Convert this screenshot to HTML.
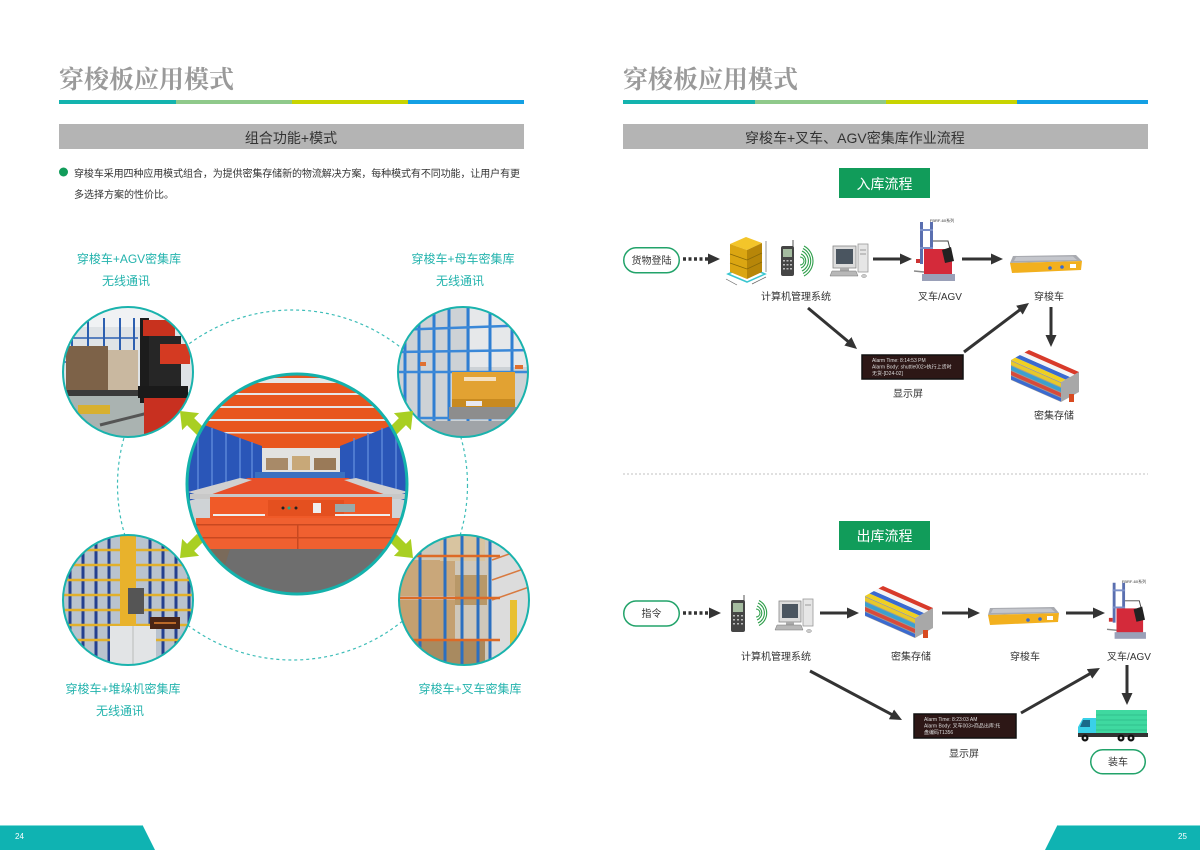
<!DOCTYPE html>
<html><head><meta charset="utf-8">
<style>
html,body{margin:0;padding:0;background:#fff;}
svg{display:block;}
text{font-family:"Liberation Sans","Noto Sans CJK SC",sans-serif;}
.t{font-family:"Liberation Serif","Noto Serif CJK SC",serif;font-weight:700;}
</style></head><body>
<svg width="1200" height="850" viewBox="0 0 1200 850" xmlns="http://www.w3.org/2000/svg">
<defs>
<marker id="ah" markerUnits="userSpaceOnUse" viewBox="0 -6 12 12" markerWidth="12" markerHeight="12" refX="1" refY="0" orient="auto"><path d="M0,-5.5 L12,0 L0,5.5 z" fill="#333"/></marker>
<clipPath id="cTL"><circle cx="128" cy="372" r="65"/></clipPath>
<clipPath id="cTR"><circle cx="463" cy="372" r="65"/></clipPath>
<clipPath id="cBL"><circle cx="128" cy="600" r="65"/></clipPath>
<clipPath id="cBR"><circle cx="464" cy="600" r="65"/></clipPath>
<clipPath id="cC"><circle cx="297" cy="484" r="110"/></clipPath>
</defs>
<rect width="1200" height="850" fill="#fff"/>

<!-- ===== LEFT PAGE ===== -->
<text class="t" x="59" y="88" font-size="25" fill="#9a9a9a">穿梭板应用模式</text>
<rect x="59" y="100" width="117" height="4" fill="#13b3ae"/>
<rect x="176" y="100" width="116" height="4" fill="#8fc98a"/>
<rect x="292" y="100" width="116" height="4" fill="#c8d400"/>
<rect x="408" y="100" width="116" height="4" fill="#14a0e4"/>
<rect x="59" y="124" width="465" height="25" fill="#b4b4b4"/>
<text x="291" y="143" font-size="14" fill="#333" text-anchor="middle">组合功能+模式</text>
<circle cx="63.5" cy="172" r="4.5" fill="#119c5a"/>
<text x="74" y="177" font-size="10" fill="#333" textLength="446" lengthAdjust="spacing">穿梭车采用四种应用模式组合，为提供密集存储新的物流解决方案，每种模式有不同功能，让用户有更</text>
<text x="74" y="198" font-size="10" fill="#333">多选择方案的性价比。</text>

<text x="129" y="263" font-size="12" fill="#23b3ad" text-anchor="middle">穿梭车+AGV密集库</text>
<text x="126" y="285" font-size="12" fill="#23b3ad" text-anchor="middle">无线通讯</text>
<text x="463" y="263" font-size="12" fill="#23b3ad" text-anchor="middle">穿梭车+母车密集库</text>
<text x="460" y="285" font-size="12" fill="#23b3ad" text-anchor="middle">无线通讯</text>
<text x="123" y="693" font-size="12" fill="#23b3ad" text-anchor="middle">穿梭车+堆垛机密集库</text>
<text x="120" y="715" font-size="12" fill="#23b3ad" text-anchor="middle">无线通讯</text>
<text x="470" y="693" font-size="12" fill="#23b3ad" text-anchor="middle">穿梭车+叉车密集库</text>

<!-- dashed big circle -->
<circle cx="292.5" cy="485" r="175" fill="none" stroke="#3dbdb8" stroke-width="1.2" stroke-dasharray="3 3"/>

<!-- TL photo -->
<g clip-path="url(#cTL)">
<rect x="60" y="305" width="140" height="135" fill="#dfe3e6"/>
<rect x="60" y="305" width="140" height="22" fill="#f0f2f4"/>
<rect x="60" y="392" width="140" height="50" fill="#aab3b1"/>
<g stroke="#2c5fb0" stroke-width="2"><line x1="72" y1="318" x2="72" y2="395"/><line x1="88" y1="318" x2="88" y2="395"/><line x1="104" y1="318" x2="104" y2="395"/><line x1="120" y1="318" x2="120" y2="395"/><line x1="134" y1="318" x2="134" y2="395"/></g>
<g stroke="#2c5fb0" stroke-width="1.5"><line x1="62" y1="338" x2="138" y2="338"/><line x1="62" y1="362" x2="138" y2="362"/></g>
<rect x="66" y="346" width="42" height="44" fill="#7d6248"/>
<rect x="108" y="350" width="30" height="40" fill="#c9b8a0"/>
<rect x="66" y="390" width="74" height="6" fill="#3a3a3a"/>
<rect x="78" y="405" width="32" height="9" fill="#d8b030"/>
<line x1="100" y1="425" x2="152" y2="412" stroke="#555" stroke-width="3"/>
<rect x="140" y="318" width="9" height="85" fill="#1c1c1c"/>
<rect x="143" y="320" width="32" height="16" fill="#c8321e"/>
<rect x="149" y="336" width="32" height="52" fill="#262626"/>
<rect x="160" y="344" width="30" height="20" fill="#d43a22"/>
<rect x="138" y="386" width="50" height="12" fill="#1a1a1a"/>
<rect x="144" y="398" width="44" height="40" fill="#c83020"/>
</g>
<circle cx="128" cy="372" r="65" fill="none" stroke="#1ab3ad" stroke-width="2"/>

<!-- TR photo -->
<g clip-path="url(#cTR)">
<rect x="395" y="305" width="140" height="135" fill="#cdd2d6"/>
<rect x="470" y="305" width="65" height="62" fill="#e6e8ea"/>
<g stroke="#2f7ed2" stroke-width="3"><line x1="405" y1="305" x2="405" y2="440"/><line x1="419" y1="305" x2="419" y2="440"/><line x1="434" y1="305" x2="434" y2="440"/><line x1="449" y1="305" x2="449" y2="440"/><line x1="468" y1="305" x2="468" y2="440"/><line x1="490" y1="305" x2="490" y2="440"/><line x1="512" y1="305" x2="512" y2="440"/></g>
<g stroke="#3a88d8" stroke-width="2.5"><line x1="395" y1="330" x2="535" y2="325"/><line x1="395" y1="352" x2="535" y2="350"/><line x1="395" y1="372" x2="535" y2="372"/><line x1="395" y1="418" x2="535" y2="418"/><line x1="395" y1="428" x2="535" y2="428"/></g>
<rect x="400" y="340" width="6" height="4" fill="#e07030"/><rect x="420" y="362" width="6" height="4" fill="#e07030"/><rect x="515" y="365" width="8" height="4" fill="#e07030"/>
<rect x="452" y="372" width="63" height="35" fill="#e2a232"/>
<rect x="464" y="377" width="32" height="4" fill="#f5e0c0"/>
<rect x="452" y="399" width="63" height="8" fill="#c88a20"/>
<rect x="466" y="401" width="16" height="5" fill="#e8e8f0"/>
<rect x="449" y="407" width="70" height="12" fill="#8d8d8d"/>
<rect x="395" y="421" width="140" height="20" fill="#a0a4a8"/>
</g>
<circle cx="463" cy="372" r="65" fill="none" stroke="#1ab3ad" stroke-width="2"/>

<!-- BL photo -->
<g clip-path="url(#cBL)">
<rect x="60" y="533" width="140" height="135" fill="#b9c3ce"/>
<g stroke="#24408f" stroke-width="3"><line x1="70" y1="533" x2="70" y2="668"/><line x1="83" y1="533" x2="83" y2="668"/><line x1="96" y1="533" x2="96" y2="668"/><line x1="109" y1="533" x2="109" y2="668"/><line x1="150" y1="533" x2="150" y2="668"/><line x1="163" y1="533" x2="163" y2="668"/><line x1="176" y1="533" x2="176" y2="668"/><line x1="189" y1="533" x2="189" y2="668"/></g>
<g stroke="#e2b02a" stroke-width="2.5"><line x1="60" y1="550" x2="200" y2="550"/><line x1="60" y1="565" x2="200" y2="565"/><line x1="60" y1="580" x2="200" y2="580"/><line x1="60" y1="595" x2="200" y2="595"/><line x1="60" y1="610" x2="200" y2="610"/><line x1="60" y1="625" x2="200" y2="625"/><line x1="60" y1="640" x2="200" y2="640"/></g>
<rect x="120" y="533" width="16" height="100" fill="#e8b22c"/>
<rect x="128" y="588" width="16" height="26" fill="#555"/>
<rect x="110" y="626" width="46" height="44" fill="#e2e4e6"/>
<line x1="133" y1="626" x2="133" y2="668" stroke="#bbb"/>
<rect x="150" y="617" width="30" height="12" fill="#4a2515"/>
<line x1="154" y1="623" x2="176" y2="623" stroke="#e08030" stroke-width="1.5"/>
</g>
<circle cx="128" cy="600" r="65" fill="none" stroke="#1ab3ad" stroke-width="2"/>

<!-- BR photo -->
<g clip-path="url(#cBR)">
<rect x="395" y="533" width="140" height="135" fill="#cfc8bb"/>
<rect x="490" y="533" width="45" height="135" fill="#dcdcdc"/>
<g stroke="#d87a40" stroke-width="1.5"><line x1="492" y1="560" x2="535" y2="545"/><line x1="492" y1="580" x2="535" y2="565"/><line x1="492" y1="600" x2="535" y2="585"/></g>
<rect x="400" y="560" width="55" height="36" fill="#c9a77a"/>
<rect x="400" y="600" width="55" height="40" fill="#c4a070"/>
<rect x="455" y="575" width="32" height="30" fill="#b89868"/>
<rect x="400" y="640" width="85" height="28" fill="#a88a60"/>
<rect x="440" y="533" width="45" height="28" fill="#d8c4a0"/>
<g stroke="#2b6fc0" stroke-width="3"><line x1="420" y1="533" x2="420" y2="668"/><line x1="445" y1="533" x2="445" y2="668"/><line x1="462" y1="533" x2="462" y2="668"/><line x1="478" y1="533" x2="478" y2="668"/><line x1="490" y1="533" x2="490" y2="668"/></g>
<g stroke="#dd6a26" stroke-width="2.5"><line x1="400" y1="556" x2="500" y2="556"/><line x1="400" y1="598" x2="500" y2="598"/><line x1="400" y1="640" x2="500" y2="640"/></g>
<rect x="510" y="600" width="7" height="66" fill="#e8c030"/>
</g>
<circle cx="464" cy="600" r="65" fill="none" stroke="#1ab3ad" stroke-width="2"/>

<!-- yellow-green arrows -->
<g fill="#a9cf22">
<polygon transform="translate(180,411) rotate(-135)" points="0,0 -15,-12 -15,-5 -29,-5 -29,5 -15,5 -15,12"/>
<polygon transform="translate(413,411) rotate(-45)" points="0,0 -15,-12 -15,-5 -29,-5 -29,5 -15,5 -15,12"/>
<polygon transform="translate(180,558) rotate(135)" points="0,0 -15,-12 -15,-5 -29,-5 -29,5 -15,5 -15,12"/>
<polygon transform="translate(413,558) rotate(45)" points="0,0 -15,-12 -15,-5 -29,-5 -29,5 -15,5 -15,12"/>
</g>

<!-- center photo -->
<g clip-path="url(#cC)">
<rect x="185" y="372" width="225" height="225" fill="#cfd3d6"/>
<rect x="185" y="372" width="225" height="80" fill="#e8561e"/>
<g fill="#e6e6e6"><rect x="185" y="378" width="225" height="5"/><rect x="185" y="393" width="225" height="2"/><rect x="185" y="406" width="225" height="2"/><rect x="185" y="419" width="225" height="2"/><rect x="185" y="432" width="225" height="1.5"/></g>
<rect x="262" y="448" width="78" height="30" fill="#e2e2e0"/>
<rect x="266" y="458" width="22" height="12" fill="#a88a68"/><rect x="292" y="456" width="18" height="14" fill="#c8a878"/><rect x="314" y="458" width="22" height="12" fill="#9a7a58"/>
<polygon points="185,418 262,446 262,480 185,502" fill="#2a56b8"/>
<polygon points="410,418 340,446 340,480 410,502" fill="#2a56b8"/>
<g stroke="#5a86d8" stroke-width="1.5"><line x1="198" y1="423" x2="198" y2="498"/><line x1="212" y1="428" x2="212" y2="494"/><line x1="226" y1="433" x2="226" y2="490"/><line x1="240" y1="438" x2="240" y2="486"/><line x1="252" y1="442" x2="252" y2="483"/><line x1="396" y1="423" x2="396" y2="498"/><line x1="382" y1="428" x2="382" y2="494"/><line x1="368" y1="433" x2="368" y2="490"/><line x1="354" y1="438" x2="354" y2="486"/></g>
<rect x="255" y="472" width="90" height="6" fill="#3a70c0"/>
<polygon points="200,494 248,478 348,478 396,494" fill="#e8502a"/>
<polygon points="188,492 240,478 252,480 204,497" fill="#d0d0d0"/>
<polygon points="408,492 356,478 344,480 392,497" fill="#d0d0d0"/>
<rect x="190" y="494" width="216" height="5" fill="#c8c8c8"/>
<rect x="210" y="497" width="182" height="21" fill="#f05a28"/>
<rect x="268" y="500" width="76" height="16" fill="#e4501f"/>
<circle cx="283" cy="508" r="1.5" fill="#222"/><circle cx="289" cy="508" r="1.5" fill="#2a8"/><circle cx="296" cy="508" r="1.5" fill="#222"/>
<rect x="313" y="503" width="8" height="10" fill="#eee"/>
<rect x="335" y="504" width="20" height="8" fill="#9aa"/>
<rect x="213" y="514" width="52" height="2" fill="#eee"/><rect x="335" y="514" width="55" height="2" fill="#eee"/>
<rect x="196" y="518" width="210" height="31" fill="#f06030"/>
<rect x="196" y="524" width="210" height="1.5" fill="#c84820"/>
<rect x="196" y="537" width="210" height="1.5" fill="#c84820"/>
<rect x="297" y="524" width="1.5" height="25" fill="#c84820"/>
<rect x="185" y="549" width="225" height="50" fill="#6e6e6e"/>
<polygon points="185,549 230,549 215,597 185,597" fill="#7a6a5a"/>
</g>
<circle cx="297" cy="484" r="110" fill="none" stroke="#14b2ac" stroke-width="3"/>

<!-- footer left -->
<rect x="0" y="825" width="143" height="1" fill="#7fdbd8"/>
<polygon points="0,826 143,826 155,850 0,850" fill="#0fb3b2"/>
<text x="15" y="839" font-size="8" fill="#fff">24</text>

<!-- ===== RIGHT PAGE ===== -->
<text class="t" x="623" y="88" font-size="25" fill="#9a9a9a">穿梭板应用模式</text>
<rect x="623" y="100" width="132" height="4" fill="#13b3ae"/>
<rect x="755" y="100" width="131" height="4" fill="#8fc98a"/>
<rect x="886" y="100" width="131" height="4" fill="#c8d400"/>
<rect x="1017" y="100" width="131" height="4" fill="#14a0e4"/>
<rect x="623" y="124" width="525" height="25" fill="#b4b4b4"/>
<text x="745" y="143" font-size="14" fill="#333">穿梭车+叉车、AGV密集库作业流程</text>

<!-- inbound -->
<rect x="839" y="168" width="91" height="30" fill="#119c5a"/>
<text x="884.5" y="189" font-size="14" fill="#fff" text-anchor="middle">入库流程</text>
<rect x="623.75" y="247.75" width="55.5" height="25" rx="12.5" fill="#fff" stroke="#22a36a" stroke-width="1.5"/>
<text x="651.5" y="264" font-size="10" fill="#333" text-anchor="middle">货物登陆</text>
<line x1="683" y1="259" x2="709" y2="259" stroke="#333" stroke-width="3.5" stroke-dasharray="3 2.5" marker-end="url(#ah)"/>

<!-- pallet -->
<polygon points="728,274 747,282 765,274 746,266" fill="none" stroke="#39c6d0" stroke-width="1.5"/>
<polygon points="730,244 746,237 762,243 747,250" fill="#f3c52a"/>
<polygon points="730,244 747,250 747,279 730,272" fill="#dba612"/>
<polygon points="747,250 762,243 762,272 747,279" fill="#b78608"/>
<g stroke="#8a6a08" stroke-width="0.8"><line x1="730" y1="254" x2="747" y2="260"/><line x1="730" y1="263" x2="747" y2="269"/><line x1="747" y1="260" x2="762" y2="253"/><line x1="747" y1="269" x2="762" y2="262"/></g>
<line x1="766" y1="241" x2="766" y2="272" stroke="#666" stroke-width="0.7"/>
<line x1="726" y1="279" x2="737" y2="285" stroke="#666" stroke-width="0.7"/>
<line x1="752" y1="284" x2="766" y2="277" stroke="#666" stroke-width="0.7"/>
<!-- scanner -->
<line x1="793" y1="240" x2="793" y2="248" stroke="#555" stroke-width="1"/>
<rect x="781" y="246" width="13" height="30" rx="2" fill="#454545"/>
<rect x="783" y="249" width="9" height="8" fill="#a5bca0"/>
<g fill="#bbb"><rect x="783" y="260" width="2" height="1.5"/><rect x="786.5" y="260" width="2" height="1.5"/><rect x="790" y="260" width="2" height="1.5"/><rect x="783" y="264" width="2" height="1.5"/><rect x="786.5" y="264" width="2" height="1.5"/><rect x="790" y="264" width="2" height="1.5"/><rect x="783" y="268" width="2" height="1.5"/><rect x="786.5" y="268" width="2" height="1.5"/><rect x="790" y="268" width="2" height="1.5"/></g>
<g fill="none" stroke="#2e9e4a" stroke-width="1.1"><path d="M800,257 A4,4 0 0 1 800,265"/><path d="M801,254 A7.5,7.5 0 0 1 801,268"/><path d="M802,251 A11,11 0 0 1 802,271"/><path d="M803,248.5 A14,14 0 0 1 803,273.5"/><path d="M804,246 A17,17 0 0 1 804,276"/></g>
<!-- computer -->
<rect x="833" y="246" width="23" height="22" fill="#dcdcdc" stroke="#888" stroke-width="0.8"/>
<rect x="836" y="249" width="17" height="15" fill="#4a5560"/>
<rect x="840" y="268" width="9" height="3" fill="#aaa"/>
<rect x="858" y="244" width="10" height="28" fill="#e6e6e6" stroke="#999" stroke-width="0.8"/>
<line x1="860" y1="250" x2="866" y2="250" stroke="#999"/><line x1="860" y1="254" x2="866" y2="254" stroke="#999"/>
<polygon points="832,271 856,271 858,276 830,276" fill="#b8b8b8" stroke="#777" stroke-width="0.5"/>
<ellipse cx="864" cy="276" rx="2.5" ry="1.5" fill="#ccc" stroke="#888" stroke-width="0.5"/>
<text x="796" y="300" font-size="10" fill="#333" text-anchor="middle">计算机管理系统</text>
<line x1="873" y1="259" x2="901" y2="259" stroke="#333" stroke-width="3" marker-end="url(#ah)"/>

<!-- forklift 1 -->
<g transform="translate(914,217)">
<rect x="6" y="5" width="3" height="42" fill="#5a6fb0"/><rect x="16" y="5" width="3" height="42" fill="#5a6fb0"/>
<rect x="6" y="12" width="13" height="2" fill="#7a8fc8"/><rect x="6" y="30" width="13" height="2" fill="#7a8fc8"/>
<polyline points="19,24 34,24 38,40" fill="none" stroke="#444" stroke-width="1"/>
<polygon points="10,32 31,32 38,37 38,58 10,58" fill="#d42a3a"/>
<polygon points="28,33 37,30 40,44 31,46" fill="#222"/>
<rect x="8" y="57" width="33" height="7" fill="#9aa0b8"/>
<line x1="0" y1="54" x2="10" y2="55" stroke="#888" stroke-width="1.5"/>
<rect x="2" y="42" width="4" height="4" fill="#c33"/>
</g>
<text x="942" y="222" font-size="4" fill="#333" text-anchor="middle">FBRF-60系列</text>
<text x="940" y="300" font-size="10" fill="#333" text-anchor="middle">叉车/AGV</text>
<line x1="962" y1="259" x2="992" y2="259" stroke="#333" stroke-width="3" marker-end="url(#ah)"/>

<!-- shuttle 1 -->
<polygon points="1013,256 1076,255 1082,261 1010,263" fill="#a8aab0"/>
<polygon points="1016,257 1073,256.5 1077,260 1014,261" fill="#c4c6cc"/>
<polygon points="1010,263 1082,261 1081,270 1012,273" fill="#f2b01e"/>
<circle cx="1050" cy="268" r="1.8" fill="#3a6ad0"/><circle cx="1062" cy="267" r="1.8" fill="#3a6ad0"/><rect x="1070" y="264" width="6" height="4" fill="#fff"/>
<text x="1049" y="300" font-size="10" fill="#333" text-anchor="middle">穿梭车</text>
<line x1="1051" y1="307" x2="1051" y2="336" stroke="#333" stroke-width="3" marker-end="url(#ah)"/>

<!-- rack 1 -->
<g transform="translate(1011,360)">
<polygon points="50,22 68,12 68,32 50,42" fill="#a8a8a8"/>
<g transform="matrix(1,0.44,0,1,0,0)">
<rect x="0" y="0" width="50" height="20" fill="#9a9a9a"/>
<rect x="0" y="1" width="50" height="4" fill="#e8c82a"/>
<rect x="0" y="6" width="50" height="4" fill="#3aa0d0"/>
<rect x="0" y="11" width="50" height="4" fill="#d84a3a"/>
<rect x="0" y="16" width="50" height="3.5" fill="#3a6ad0"/>
</g>
<polygon points="0,0 50,22 54.5,19.5 4.5,-2.5" fill="#f0d020"/>
<polygon points="4.5,-2.5 54.5,19.5 59,17 9,-5" fill="#3a6ad0"/>
<polygon points="9,-5 59,17 63.5,14.5 13.5,-7.5" fill="#f4f4f4"/>
<polygon points="13.5,-7.5 63.5,14.5 68,12 18,-10" fill="#d83a2a"/>
<rect x="58" y="34" width="5" height="8" fill="#d84a20"/>
</g>
<text x="1054" y="419" font-size="10" fill="#333" text-anchor="middle">密集存储</text>

<!-- diagonals inbound -->
<line x1="808" y1="308" x2="848.6" y2="341.9" stroke="#333" stroke-width="3" marker-end="url(#ah)"/>
<rect x="862" y="355" width="101" height="24" fill="#2d1716" stroke="#111" stroke-width="1.5"/>
<text x="872" y="362" font-size="5" fill="#ddd">Alarm Time: 8:14:53 PM</text>
<text x="872" y="368.5" font-size="5" fill="#ddd">Alarm Body: shuttle002&gt;执行上货时</text>
<text x="872" y="375" font-size="5" fill="#ddd">无货-[D24-02]</text>
<text x="908" y="397" font-size="10" fill="#333" text-anchor="middle">显示屏</text>
<line x1="964" y1="352" x2="1020.2" y2="309.6" stroke="#333" stroke-width="3" marker-end="url(#ah)"/>

<!-- separator -->
<line x1="623" y1="474" x2="1148" y2="474" stroke="#c0c0c0" stroke-width="1" stroke-dasharray="2 2"/>

<!-- outbound -->
<rect x="839" y="521" width="91" height="29" fill="#119c5a"/>
<text x="884.5" y="541" font-size="14" fill="#fff" text-anchor="middle">出库流程</text>
<rect x="623.75" y="601" width="55.5" height="25" rx="12.5" fill="#fff" stroke="#22a36a" stroke-width="1.5"/>
<text x="651.5" y="617" font-size="10" fill="#333" text-anchor="middle">指令</text>
<line x1="683" y1="613" x2="710" y2="613" stroke="#333" stroke-width="3.5" stroke-dasharray="3 2.5" marker-end="url(#ah)"/>
<!-- scanner 2 -->
<line x1="744" y1="595" x2="744" y2="602" stroke="#555" stroke-width="1"/>
<rect x="731" y="600" width="14" height="32" rx="2" fill="#454545"/>
<rect x="733" y="603" width="10" height="9" fill="#a5bca0"/>
<g fill="#bbb"><rect x="733" y="615" width="2" height="1.5"/><rect x="737" y="615" width="2" height="1.5"/><rect x="741" y="615" width="2" height="1.5"/><rect x="733" y="619" width="2" height="1.5"/><rect x="737" y="619" width="2" height="1.5"/><rect x="741" y="619" width="2" height="1.5"/><rect x="733" y="623" width="2" height="1.5"/><rect x="737" y="623" width="2" height="1.5"/><rect x="741" y="623" width="2" height="1.5"/></g>
<g fill="none" stroke="#2e9e4a" stroke-width="1.1"><path d="M756,609 A4,4 0 0 1 756,617"/><path d="M757,606 A7.5,7.5 0 0 1 757,620"/><path d="M758,603 A11,11 0 0 1 758,623"/><path d="M759,600.5 A14,14 0 0 1 759,625.5"/></g>
<!-- computer 2 -->
<rect x="779" y="601" width="22" height="21" fill="#dcdcdc" stroke="#888" stroke-width="0.8"/>
<rect x="782" y="604" width="16" height="14" fill="#4a5560"/>
<rect x="786" y="622" width="8" height="3" fill="#aaa"/>
<rect x="803" y="599" width="10" height="27" fill="#e6e6e6" stroke="#999" stroke-width="0.8"/>
<line x1="805" y1="605" x2="811" y2="605" stroke="#999"/>
<polygon points="777,625 801,625 803,630 775,630" fill="#b8b8b8" stroke="#777" stroke-width="0.5"/>
<ellipse cx="809" cy="631" rx="2.5" ry="1.5" fill="#ccc" stroke="#888" stroke-width="0.5"/>
<text x="776" y="660" font-size="10" fill="#333" text-anchor="middle">计算机管理系统</text>
<line x1="820" y1="613" x2="848" y2="613" stroke="#333" stroke-width="3" marker-end="url(#ah)"/>

<!-- rack 2 -->
<g transform="translate(865,596)">
<polygon points="50,22 68,12 68,32 50,42" fill="#a8a8a8"/>
<g transform="matrix(1,0.44,0,1,0,0)">
<rect x="0" y="0" width="50" height="20" fill="#9a9a9a"/>
<rect x="0" y="1" width="50" height="4" fill="#e8c82a"/>
<rect x="0" y="6" width="50" height="4" fill="#3aa0d0"/>
<rect x="0" y="11" width="50" height="4" fill="#d84a3a"/>
<rect x="0" y="16" width="50" height="3.5" fill="#3a6ad0"/>
</g>
<polygon points="0,0 50,22 54.5,19.5 4.5,-2.5" fill="#f0d020"/>
<polygon points="4.5,-2.5 54.5,19.5 59,17 9,-5" fill="#3a6ad0"/>
<polygon points="9,-5 59,17 63.5,14.5 13.5,-7.5" fill="#f4f4f4"/>
<polygon points="13.5,-7.5 63.5,14.5 68,12 18,-10" fill="#d83a2a"/>
<rect x="58" y="34" width="5" height="8" fill="#d84a20"/>
</g>
<text x="911" y="660" font-size="10" fill="#333" text-anchor="middle">密集存储</text>
<line x1="942" y1="613" x2="969" y2="613" stroke="#333" stroke-width="3" marker-end="url(#ah)"/>

<!-- shuttle 2 -->
<polygon points="990,608 1054,607 1059,613 988,615" fill="#a8aab0"/>
<polygon points="993,609 1051,608.5 1055,612 991,613" fill="#c4c6cc"/>
<polygon points="988,615 1059,613 1058,622 990,625" fill="#f2b01e"/>
<circle cx="1028" cy="620" r="1.8" fill="#3a6ad0"/><circle cx="1040" cy="619" r="1.8" fill="#3a6ad0"/><rect x="1047" y="616" width="6" height="4" fill="#fff"/>
<text x="1025" y="660" font-size="10" fill="#333" text-anchor="middle">穿梭车</text>
<line x1="1066" y1="613" x2="1094" y2="613" stroke="#333" stroke-width="3" marker-end="url(#ah)"/>

<!-- forklift 2 -->
<g transform="translate(1107,578) scale(0.95)">
<rect x="6" y="5" width="3" height="42" fill="#5a6fb0"/><rect x="16" y="5" width="3" height="42" fill="#5a6fb0"/>
<rect x="6" y="12" width="13" height="2" fill="#7a8fc8"/><rect x="6" y="30" width="13" height="2" fill="#7a8fc8"/>
<polyline points="19,24 34,24 38,40" fill="none" stroke="#444" stroke-width="1"/>
<polygon points="10,32 31,32 38,37 38,58 10,58" fill="#d42a3a"/>
<polygon points="28,33 37,30 40,44 31,46" fill="#222"/>
<rect x="8" y="57" width="33" height="7" fill="#9aa0b8"/>
<line x1="0" y1="54" x2="10" y2="55" stroke="#888" stroke-width="1.5"/>
<rect x="2" y="42" width="4" height="4" fill="#c33"/>
</g>
<text x="1134" y="583" font-size="4" fill="#333" text-anchor="middle">FBRF-60系列</text>
<text x="1129" y="660" font-size="10" fill="#333" text-anchor="middle">叉车/AGV</text>
<line x1="1127" y1="665" x2="1127" y2="694" stroke="#333" stroke-width="3" marker-end="url(#ah)"/>

<!-- truck -->
<rect x="1096" y="710" width="51" height="23" fill="#3fd9a0"/>
<g stroke="#2fb888" stroke-width="0.7"><line x1="1096" y1="715" x2="1147" y2="715"/><line x1="1096" y1="720" x2="1147" y2="720"/><line x1="1096" y1="725" x2="1147" y2="725"/><line x1="1096" y1="730" x2="1147" y2="730"/></g>
<polygon points="1078,737 1078,727 1083,718 1096,718 1096,737" fill="#3ad0e8"/>
<polygon points="1083,720 1090,720 1090,727 1080,727" fill="#1a6a8a"/>
<rect x="1078" y="733" width="70" height="4" fill="#333"/>
<circle cx="1085" cy="738" r="3.5" fill="#111"/><circle cx="1121" cy="738" r="3.5" fill="#111"/><circle cx="1131" cy="738" r="3.5" fill="#111"/>
<circle cx="1085" cy="738" r="1.3" fill="#ddd"/><circle cx="1121" cy="738" r="1.3" fill="#ddd"/><circle cx="1131" cy="738" r="1.3" fill="#ddd"/>
<rect x="1090.75" y="749.75" width="54.5" height="24" rx="12" fill="#fff" stroke="#22a36a" stroke-width="1.5"/>
<text x="1118" y="765.5" font-size="10" fill="#333" text-anchor="middle">装车</text>

<!-- diagonals outbound -->
<line x1="810" y1="671" x2="892.3" y2="714.8" stroke="#333" stroke-width="3" marker-end="url(#ah)"/>
<rect x="914" y="714" width="102" height="24" fill="#2d1716" stroke="#111" stroke-width="1.5"/>
<text x="924" y="721" font-size="5" fill="#ddd">Alarm Time: 8:23:03 AM</text>
<text x="924" y="727.5" font-size="5" fill="#ddd">Alarm Body: 叉车003&gt;商品出库:托</text>
<text x="924" y="734" font-size="5" fill="#ddd">盘编码T1356</text>
<text x="964" y="757" font-size="10" fill="#333" text-anchor="middle">显示屏</text>
<line x1="1021" y1="713" x2="1090.4" y2="673.4" stroke="#333" stroke-width="3" marker-end="url(#ah)"/>

<!-- footer right -->
<rect x="1057" y="825" width="143" height="1" fill="#7fdbd8"/>
<polygon points="1057,826 1200,826 1200,850 1045,850" fill="#0fb3b2"/>
<text x="1178" y="839" font-size="8" fill="#fff">25</text>
</svg>
</body></html>
